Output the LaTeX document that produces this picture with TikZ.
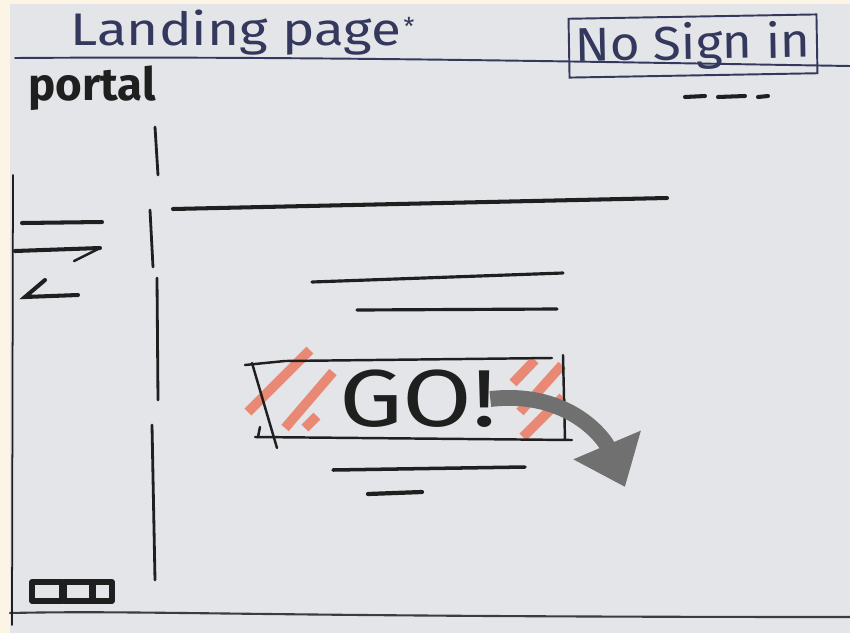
\documentclass[tikz,border=0pt]{standalone}
\usepackage{fontspec}
\setmainfont{Fira Sans}
\usetikzlibrary{arrows.meta}
\definecolor{crema}{HTML}{FCF5E6}
\definecolor{carta}{HTML}{E3E5E8}
\definecolor{blu}{HTML}{33385C}
\definecolor{nero}{HTML}{1F1F1F}
\definecolor{grigio}{HTML}{3C3C3C}
\definecolor{salmone}{HTML}{EB7A62}
\definecolor{ombra}{HTML}{707070}

\begin{document}
\begin{tikzpicture}[x=0.02cm,y=-0.02cm,
    marcatore/.style={draw=nero,line width=2.3pt,line cap=round},
    matita/.style={draw=nero,line width=1.4pt,line cap=round},
    biro/.style={draw=blu,line width=1.1pt,line cap=round},
    evid/.style={draw=salmone,line width=5.5pt,opacity=.85},
    freccia/.style={draw=ombra,line width=9pt,-{Triangle[width=40pt,length=26pt]}}]
        \useasboundingbox (0,0) rectangle (850,633);
        % --- foglio -------------------------------------------------------
        \fill[crema] (0,0) rectangle (850,633);
        \fill[carta] (10,4) rectangle (850,633);
        \draw[biro] (15,58) .. controls (300,56) and (600,62) .. (850,66);
        \draw[matita,draw=grigio,line width=1.2pt] (10,613) .. controls (150,610) and (250,617) .. (850,617);
        \draw[matita,line width=1pt] (13,175) -- (12,625);
        % --- intestazione -------------------------------------------------
        \node[blu,font=\fontsize{26}{26}\selectfont,anchor=base west,inner sep=0pt] (titolo) at (70,45)
            {\scalebox{1.2}[1]{Landing page}};
        \node[blu,font=\fontsize{14}{14}\selectfont,anchor=west,inner sep=1pt] (stella) at ([yshift=3pt]titolo.east) {*};
        \node[blu,draw=blu,line width=1.1pt,rotate=1,minimum width=4.96cm,minimum height=0.98cm,
              font=\fontsize{27}{27}\selectfont] (accesso) at (693,46) {\scalebox{1.08}[1]{No Sign in}};
        \node[nero,font=\bfseries\fontsize{26}{26}\selectfont,anchor=base west,inner sep=0pt] (logo) at (28,100) {portal};
        \foreach \xa/\xb in {685/705, 718/745, 758/768}
            \draw[marcatore] (\xa,97) -- (\xb,96);
        % --- menu laterale ------------------------------------------------
        \draw[marcatore] (102,222) -- (22,223);
        \draw[marcatore] (15,251) -- (100,248);
        \draw[marcatore,line width=1.4pt] (100,248) -- (74,261);
        \draw[marcatore] (45,280) -- (25,297) -- (78,295);
        \foreach \xa/\ya/\xb/\yb in {155/127/158/175, 150/210/153/267, 157/278/158/400, 152/425/155/580}
            \draw[marcatore,line width=1.6pt] (\xa,\ya) -- (\xb,\yb);
        \foreach \x/\w in {32/30, 64/28, 93/19}
            \draw[marcatore,line width=3.2pt,line join=round] (\x,582) rectangle (\x+\w,601);
        % --- contenuto ----------------------------------------------------
        \draw[marcatore] (173,209) -- (667,198);
        \draw[marcatore,line width=1.8pt] (312,282) -- (563,273);
        \draw[marcatore,line width=1.8pt] (357,310) -- (557,309);
        % --- bottone ------------------------------------------------------
        \foreach \xa/\ya/\xb/\yb in {248/412/310/350, 285/428/333/372, 305/428/317/416,
                                     513/383/535/360, 520/412/562/365, 523/437/563/397}
            \draw[evid] (\xa,\ya) -- (\xb,\yb);
        \draw[matita] (245,365) -- (285,361) -- (552,358);
        \draw[matita] (252,363) -- (277,448);
        \draw[matita] (260,427) -- (258,437);
        \draw[matita] (255,437) -- (572,440);
        \draw[matita] (563,355) -- (565,440);
        \node[nero,font=\fontsize{46}{46}\selectfont,inner sep=0pt] (go) at (418,399)
            {\scalebox{1.25}[1]{GO!}};
        \coordinate (meta) at (625,487);
        \draw[freccia] ([xshift=-4pt]go.east) .. controls (570,390) and (605,440) .. (meta);
        \draw[marcatore,line width=2pt] (333,470) -- (525,467);
        \draw[marcatore,line width=2.4pt] (368,494) -- (422,492);
    \end{tikzpicture}
\end{document}
